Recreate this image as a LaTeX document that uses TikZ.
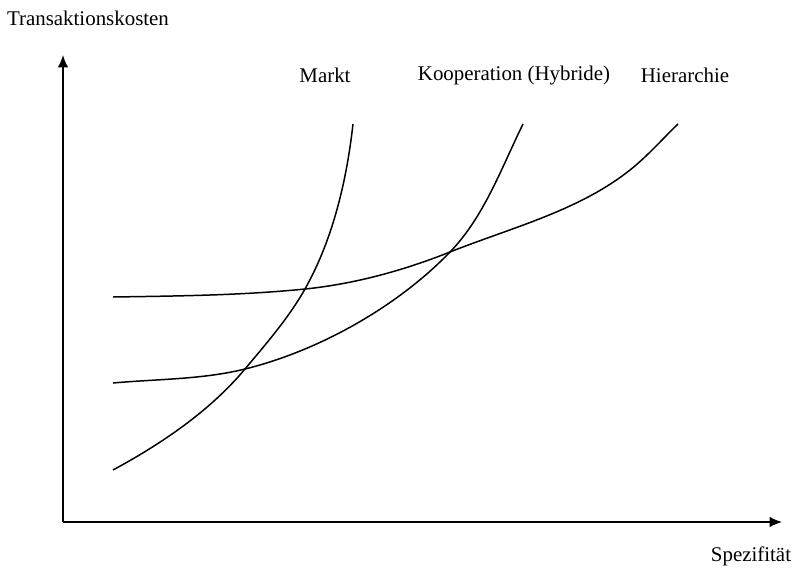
\documentclass[tikz,border=0pt]{standalone}
\usepackage{fontspec}
\setmainfont{Liberation Serif}
\usetikzlibrary{arrows.meta}

\begin{document}
\begin{tikzpicture}[x=0.02cm, y=-0.02cm, font=\fontsize{11.9}{13}\selectfont,
  axis/.style={line width=0.9pt, -{Latex[length=7pt, width=6pt]}},
  curve/.style={line width=0.85pt},
  label/.style={inner sep=0pt, anchor=center}]
\useasboundingbox (0,0) rectangle (795,572);

% axes
\coordinate (origin) at (63,522);
\coordinate (ytip) at (63,55);
\coordinate (xtip) at (782,522);
\draw[axis] (origin) -- (ytip);
\draw[axis] (origin) -- (xtip);

\node (ylabel) [label] at (88,18) {Transaktionskosten};
\node (xlabel) [label] at (751,556) {Spezifität};

% curve labels
\node (markt) [label] at (325,75) {Markt};
\node (koop) [label] at (514,75) {Kooperation (Hybride)};
\node (hier) [label] at (685,75) {Hierarchie};

% Markt
\draw[curve] (113,470) .. controls (161.4,443.8) and (209.7,411.2) .. (245,369)
  .. controls (266.2,343.7) and (288.8,317.7) .. (305,289)
  .. controls (332.9,239.4) and (346.7,180.4) .. (353,124);
% Kooperation
\draw[curve] (113,383) .. controls (156.8,379) and (202.3,379.6) .. (245,369)
  .. controls (318.7,350.8) and (397,307) .. (450,252)
  .. controls (484,217) and (501.4,168) .. (523,124);
% Hierarchie
\draw[curve] (113,297) .. controls (177,296) and (241.6,295.4) .. (305,289)
  .. controls (354.5,284) and (403.5,270.5) .. (450,252)
  .. controls (511.4,227.6) and (578.5,210.9) .. (630,170)
  .. controls (647.2,156.4) and (662.2,139.2) .. (678,124);
\end{tikzpicture}
\end{document}
